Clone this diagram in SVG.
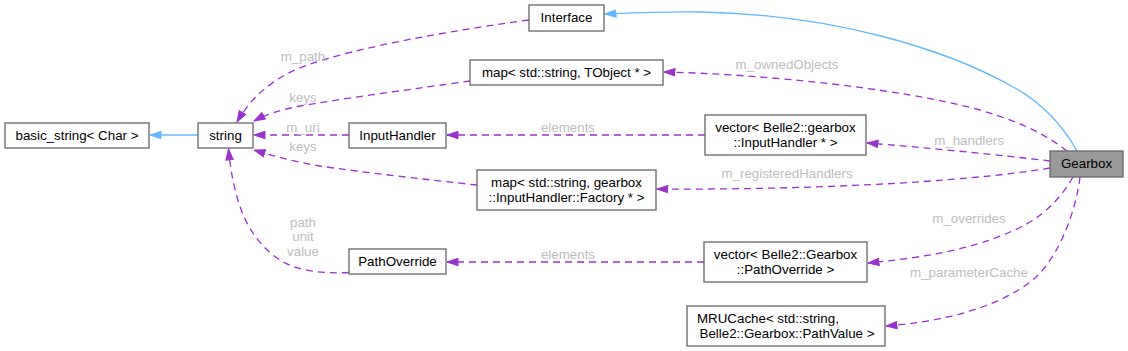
<svg xmlns="http://www.w3.org/2000/svg" width="1128" height="351" viewBox="0 0 1128 351">
<style>
text{font-family:"Liberation Sans",Arial,Helvetica,sans-serif;font-size:13.33px;fill:#000}
.n rect{fill:#fff;stroke:#666;stroke-width:1.3}
.n.hl rect{fill:#999}
.lbl{fill:#bebebe}
.c path.d{fill:none;stroke:#9a32cd;stroke-width:1.3;stroke-dasharray:7,5;marker-end:url(#ap)}
.c path.i{fill:none;stroke:#63b8ff;stroke-width:1.3;marker-end:url(#ab)}
.m{text-anchor:middle}
</style>
<defs>
<marker id="ap" viewBox="0 0 12 9" refX="11.5" refY="4.5" markerWidth="12" markerHeight="9" markerUnits="userSpaceOnUse" orient="auto">
<path d="M0.5,0.8 L11.5,4.5 L0.5,8.2 z" fill="#9a32cd" stroke="#9a32cd" stroke-width="1"/>
</marker>
<marker id="ab" viewBox="0 0 12 9" refX="11.5" refY="4.5" markerWidth="12" markerHeight="9" markerUnits="userSpaceOnUse" orient="auto">
<path d="M0.5,0.8 L11.5,4.5 L0.5,8.2 z" fill="#63b8ff" stroke="#63b8ff" stroke-width="1"/>
</marker>
</defs>
<rect width="1128" height="351" fill="#fff"/>
<g id="connectors" class="c">
<path class="i" d="M1077,151 C1063,126 1043,104 1015,88 C945,48 830,14 700,12 C660,11.5 630,13 605,14"/>
<path class="i" d="M198,135 L150,135"/>
<path class="d" d="M1067,151 C1050,138 1030,125 980,110 C900,88 760,74 664,72"/>
<path class="d" d="M1050,161 C1000,155 920,147 867,143"/>
<path class="d" d="M1050,168 C960,183 800,190 657,189"/>
<path class="d" d="M1073,177 C1060,200 1040,220 1010,232 C970,250 920,258 868,263"/>
<path class="d" d="M1080,177 C1076,210 1060,255 1035,278 C1000,308 940,322 886,326"/>
<path class="d" d="M705,135 L447,135"/>
<path class="d" d="M704,262 L447,262"/>
<path class="d" d="M529,20 C420,35 320,55 285,75 C262,88 248,103 237,122"/>
<path class="d" d="M470,81 C420,88 340,99 300,106 C280,110 265,115 254,121"/>
<path class="d" d="M349,135 L254,135"/>
<path class="d" d="M477,185 C430,180 360,172 320,166 C295,162 270,155 254,150"/>
<path class="d" d="M349,272.5 C320,274 295,270 280,260 C258,246 243,222 236,193 C232,178 230,165 228.5,149"/>
<text class="lbl m" x="787" y="68.5">m_ownedObjects</text>
<text class="lbl m" x="969" y="144.5">m_handlers</text>
<text class="lbl m" x="787" y="178">m_registeredHandlers</text>
<text class="lbl m" x="969" y="222.5">m_overrides</text>
<text class="lbl m" x="969" y="276.5">m_parameterCache</text>
<text class="lbl m" x="568" y="132">elements</text>
<text class="lbl m" x="568" y="258.5">elements</text>
<text class="lbl m" x="303" y="61">m_path</text>
<text class="lbl m" x="303" y="102">keys</text>
<text class="lbl m" x="303" y="131.5">m_uri</text>
<text class="lbl m" x="303" y="151">keys</text>
<text class="lbl m" x="303" y="227">path</text>
<text class="lbl m" x="303" y="241">unit</text>
<text class="lbl m" x="303" y="255.5">value</text>
</g>
<g id="node-gearbox" class="n hl">
<rect x="1050" y="151" width="73" height="26"/>
<text class="m" x="1086.5" y="168">Gearbox</text>
</g>
<g id="node-interface" class="n">
<rect x="529" y="5" width="75" height="26"/>
<text class="m" x="566.5" y="22">Interface</text>
</g>
<g id="node-map-tobject" class="n">
<rect x="470" y="60" width="193" height="25"/>
<text class="m" x="566.5" y="76.5">map&lt; std::string, TObject * &gt;</text>
</g>
<g id="node-string" class="n">
<rect x="198" y="123" width="55" height="25"/>
<text class="m" x="225.5" y="139.5">string</text>
</g>
<g id="node-basic-string" class="n">
<rect x="5" y="123" width="144" height="25"/>
<text class="m" x="77" y="139.5">basic_string&lt; Char &gt;</text>
</g>
<g id="node-inputhandler" class="n">
<rect x="349" y="123" width="97" height="25"/>
<text class="m" x="397.5" y="139.5">InputHandler</text>
</g>
<g id="node-map-factory" class="n">
<rect x="477" y="170" width="179" height="40"/>
<text class="m" x="566.5" y="186.5">map&lt; std::string, gearbox</text>
<text class="m" x="566.5" y="201.5">::InputHandler::Factory * &gt;</text>
</g>
<g id="node-vector-inputhandler" class="n">
<rect x="705" y="115" width="161" height="40"/>
<text class="m" x="785.5" y="131.5">vector&lt; Belle2::gearbox</text>
<text class="m" x="785.5" y="146.5">::InputHandler * &gt;</text>
</g>
<g id="node-pathoverride" class="n">
<rect x="349" y="249" width="97" height="25"/>
<text class="m" x="397.5" y="265.5">PathOverride</text>
</g>
<g id="node-vector-pathoverride" class="n">
<rect x="704" y="242" width="163" height="40"/>
<text class="m" x="785.5" y="258.5">vector&lt; Belle2::Gearbox</text>
<text class="m" x="785.5" y="273.5">::PathOverride &gt;</text>
</g>
<g id="node-mrucache" class="n">
<rect x="687" y="306" width="198" height="40"/>
<text x="697" y="322.5">MRUCache&lt; std::string,</text>
<text class="m" x="787" y="337.5">Belle2::Gearbox::PathValue &gt;</text>
</g>
</svg>
